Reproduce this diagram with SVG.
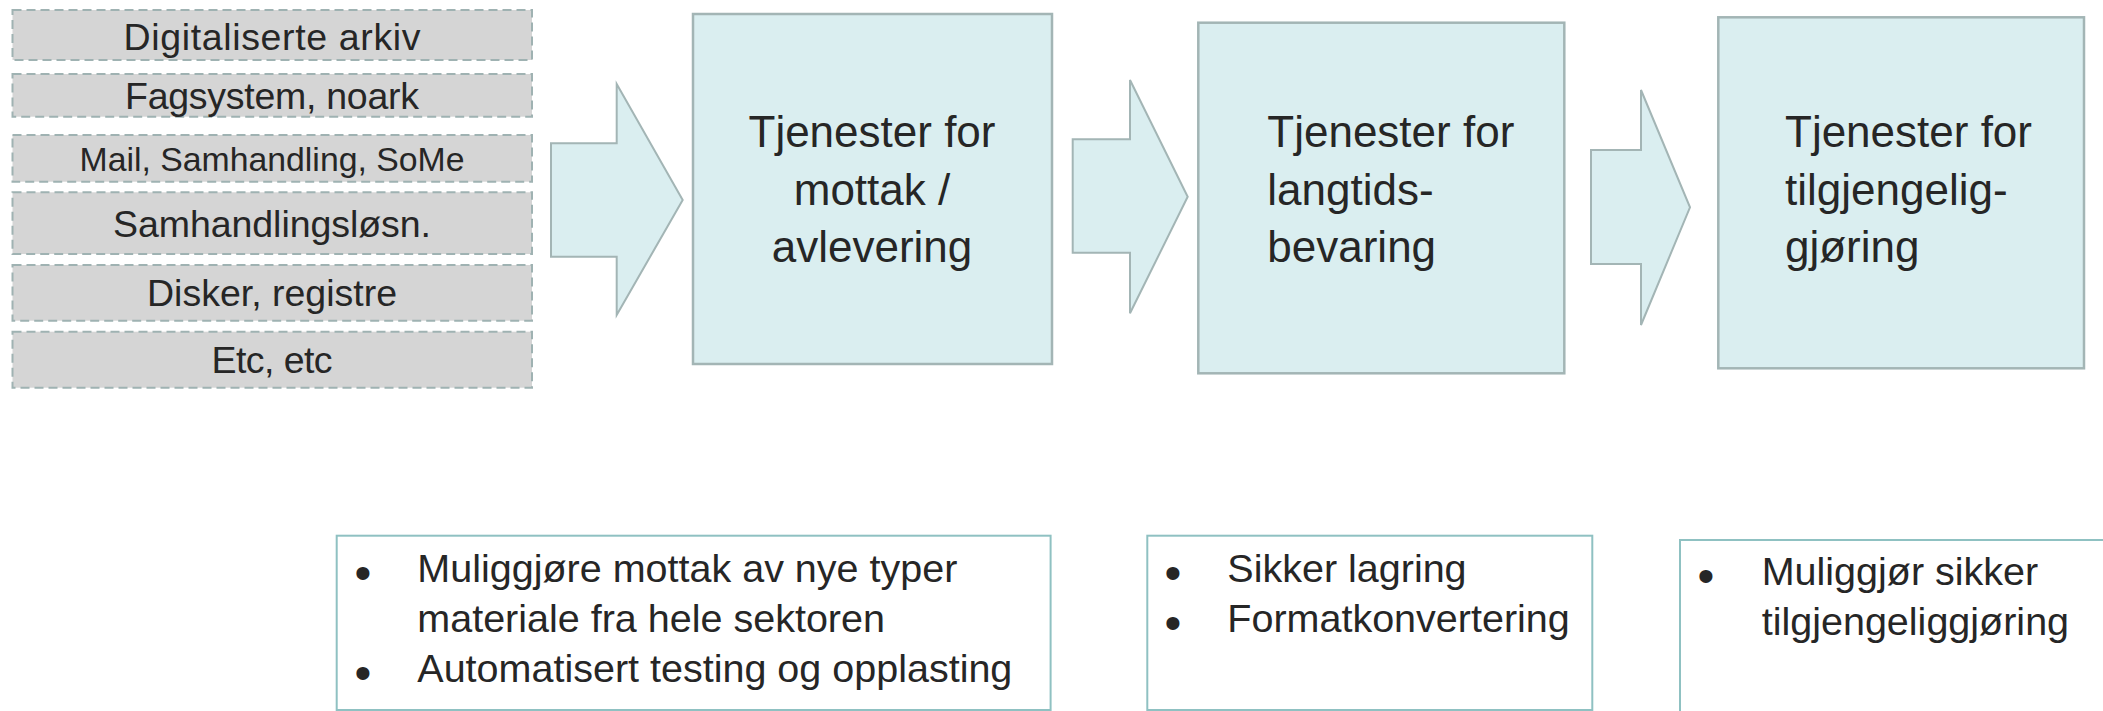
<svg xmlns="http://www.w3.org/2000/svg" width="2103" height="711" viewBox="0 0 2103 711">
<style>
  text { font-family: "Liberation Sans", Arial, sans-serif; fill: #262626; }
  .src rect { fill: #D5D5D5; stroke: #9FB2B2; stroke-width: 2; stroke-dasharray: 9 5; }
  .src text { font-size: 37.5px; text-anchor: middle; }
  .main rect { fill: #DAEEF0; stroke: #A3B5B5; stroke-width: 2.5; }
  .main text { font-size: 44px; }
  .arrow { fill: #DAEEF0; stroke: #A3B5B5; stroke-width: 2; stroke-linejoin: miter; }
  .note rect { fill: #FFFFFF; stroke: #8FC1C2; stroke-width: 2; }
  .note text { font-size: 39.5px; }
  .note .b { text-anchor: middle; font-size: 48px; }
</style>
<rect width="2103" height="711" fill="#FFFFFF"/>

<g id="src1" class="src"><rect x="12.5" y="10" width="519.5" height="50"/><text x="272" y="50" textLength="297">Digitaliserte arkiv</text></g>
<g id="src2" class="src"><rect x="12.5" y="74" width="519.5" height="42.7"/><text x="272" y="109" textLength="294">Fagsystem, noark</text></g>
<g id="src3" class="src"><rect x="12.5" y="135" width="519.5" height="46.7"/><text x="272" y="171" style="font-size:33.8px" textLength="385">Mail, Samhandling, SoMe</text></g>
<g id="src4" class="src"><rect x="12.5" y="192.3" width="519.5" height="61.7"/><text x="272" y="237" textLength="318">Samhandlingsløsn.</text></g>
<g id="src5" class="src"><rect x="12.5" y="265" width="519.5" height="55.7"/><text x="272" y="306" textLength="250">Disker, registre</text></g>
<g id="src6" class="src"><rect x="12.5" y="331.7" width="519.5" height="56"/><text x="272" y="373" textLength="121">Etc, etc</text></g>

<g id="connectors">
  <polygon class="arrow" points="551,143.3 616.7,143.3 616.7,84 682.7,200 616.7,315 616.7,256.7 551,256.7"/>
  <polygon class="arrow" points="1072.7,139.3 1130,139.3 1130,80 1187.7,196.7 1130,313.3 1130,252.7 1072.7,252.7"/>
  <polygon class="arrow" points="1591,150 1641,150 1641,90 1690,207.3 1641,325 1641,264 1591,264"/>
</g>

<g id="mottak" class="main">
  <rect x="693" y="14" width="359" height="350"/>
  <text x="872" y="147" text-anchor="middle">Tjenester for</text>
  <text x="872" y="204.5" text-anchor="middle">mottak /</text>
  <text x="872" y="262" text-anchor="middle">avlevering</text>
</g>
<g id="langtid" class="main">
  <rect x="1198.3" y="22.7" width="366" height="350.6"/>
  <text x="1267.3" y="147">Tjenester for</text>
  <text x="1267.3" y="204.5">langtids-</text>
  <text x="1267.3" y="262">bevaring</text>
</g>
<g id="tilgjengelig" class="main">
  <rect x="1718.3" y="17.3" width="365.7" height="351"/>
  <text x="1785" y="147">Tjenester for</text>
  <text x="1785" y="204.5">tilgjengelig-</text>
  <text x="1785" y="262">gjøring</text>
</g>

<g id="note1" class="note">
  <rect x="336.7" y="535.7" width="713.9" height="174.3"/>
  <text class="b" x="363" y="589">•</text>
  <text x="417.3" y="582">Muliggjøre mottak av nye typer</text>
  <text x="417.3" y="632">materiale fra hele sektoren</text>
  <text class="b" x="363" y="689">•</text>
  <text x="417.3" y="682">Automatisert testing og opplasting</text>
</g>
<g id="note2" class="note">
  <rect x="1147.3" y="535.7" width="445" height="174.3"/>
  <text class="b" x="1173" y="589">•</text>
  <text x="1227.3" y="582">Sikker lagring</text>
  <text class="b" x="1173" y="639">•</text>
  <text x="1227.3" y="632">Formatkonvertering</text>
</g>
<g id="note3" class="note">
  <rect x="1680" y="540" width="440" height="190"/>
  <text class="b" x="1706" y="592">•</text>
  <text x="1761.7" y="585">Muliggjør sikker</text>
  <text x="1761.7" y="635">tilgjengeliggjøring</text>
</g>
</svg>
